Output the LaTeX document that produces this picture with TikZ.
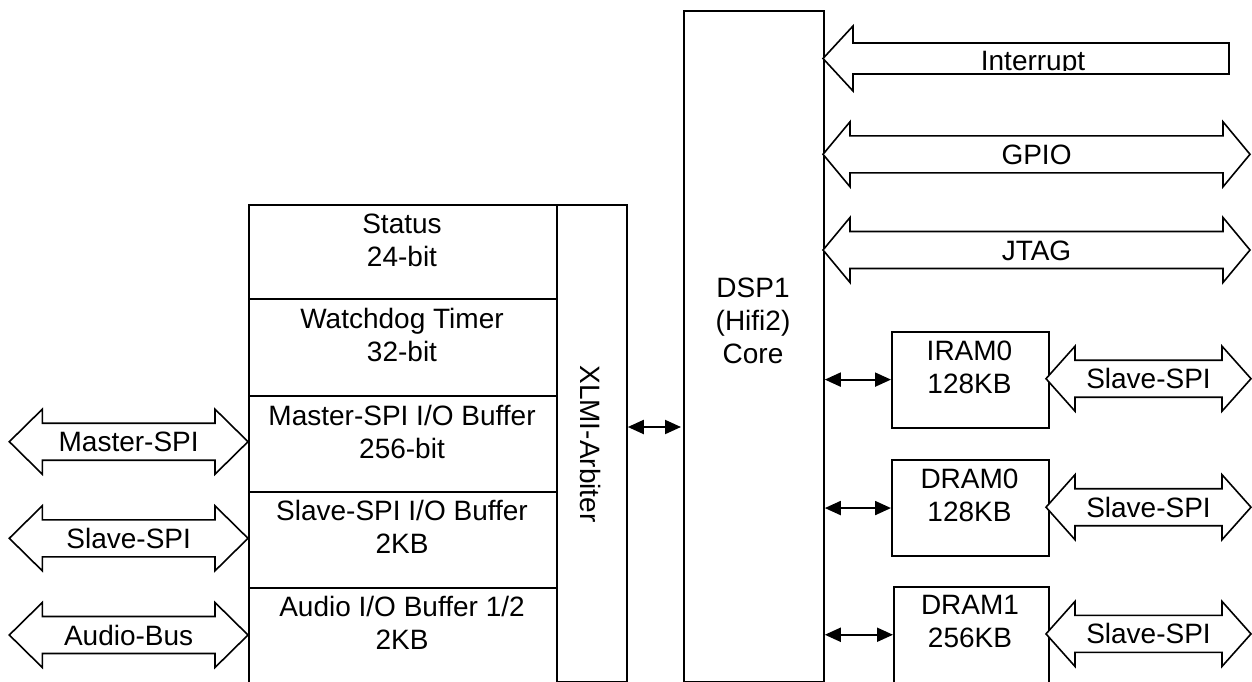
\documentclass[tikz,border=0pt]{standalone}
\usepackage{fontspec}
\setmainfont{Liberation Sans}
\usetikzlibrary{arrows.meta}
% #1 name, #2 left tip x, #3 right tip x, #4 centre y, #5 head length, #6 label
\newcommand{\DblArrow}[6]{%
  \draw[bus] (#2,#4) -- (#2+#5,#4-32.5) -- (#2+#5,#4-18.5) -- (#3-#5,#4-18.5)
    -- (#3-#5,#4-32.5) -- (#3,#4) -- (#3-#5,#4+32.5) -- (#3-#5,#4+18.5)
    -- (#2+#5,#4+18.5) -- (#2+#5,#4+32.5) -- cycle;
  \node[lbl] (#1) at ({(#2+#3)/2},#4+3.4) {\strut #6};}
\begin{document}
\begin{tikzpicture}[x=1pt,y=-1pt,
  box/.style={draw, line width=1.8pt, fill=white, inner sep=0, anchor=north west},
  bus/.style={draw, line width=1.6pt, fill=white, line join=miter},
  lbl/.style={font=\fontsize{28}{33}\selectfont, align=center, inner sep=0},
  conn/.style={line width=2pt, <->, >={Triangle[length=16pt,width=14pt]}}]
\useasboundingbox (0,0) rectangle (1252,682);
\fill[white] (0,0) rectangle (1252,682);

% left register block
\node[box, minimum width=308, minimum height=94.3] (status) at (248,204) {};
\node[box, minimum width=308, minimum height=96.4] (wdt) at (248,298.3) {};
\node[box, minimum width=308, minimum height=96.3] (mbuf) at (248,394.7) {};
\node[box, minimum width=308, minimum height=96.3] (sbuf) at (248,491) {};
\node[box, minimum width=308, minimum height=94.2] (abuf) at (248,587.3) {};
\node[lbl] (tstatus) at (402,243) {\strut Status\\\strut 24-bit};
\node[lbl] (twdt) at (402,338.4) {\strut Watchdog Timer\\\strut 32-bit};
\node[lbl] (tmbuf) at (402,435) {\strut Master-SPI I/O Buffer\\\strut 256-bit};
\node[lbl] (tsbuf) at (402,530) {\strut Slave-SPI I/O Buffer\\\strut 2KB};
\node[lbl] (tabuf) at (402,626) {\strut Audio I/O Buffer 1/2\\\strut 2KB};

% arbiter
\node[box, minimum width=70, minimum height=477] (arb) at (556,204) {};
\node[lbl, rotate=-90] (tarb) at (590,444) {XLMI-Arbiter};

% DSP core
\node[box, minimum width=140, minimum height=671] (dsp) at (683,10) {};
\node[lbl] (tdsp) at (753,324) {\strut DSP1\\\strut (Hifi2)\\\strut Core};

% memories
\node[box, minimum width=157, minimum height=96] (iram) at (891,330.7) {};
\node[box, minimum width=157, minimum height=95.7] (dram0) at (891,459.3) {};
\node[box, minimum width=155, minimum height=95.7] (dram1) at (893,586) {};
\node[lbl] (tiram) at (969.5,370.4) {\strut IRAM0\\\strut 128KB};
\node[lbl] (tdram0) at (969.5,498.4) {\strut DRAM0\\\strut 128KB};
\node[lbl] (tdram1) at (970,624.7) {\strut DRAM1\\\strut 256KB};

% connectors
\coordinate (xa) at (0,427);
\draw[conn, shorten >=2pt] (arb.east |- xa) -- (dsp.west |- xa);
\draw[conn] (dsp.east |- iram.west) -- (iram.west);
\draw[conn] (dsp.east |- dram0.west) -- (dram0.west);
\draw[conn] (dsp.east |- dram1.west) -- (dram1.west);

% left buses
\DblArrow{lmspi}{9.3}{248}{441.7}{33}{Master-SPI}
\DblArrow{lsspi}{9.3}{248}{538.3}{33}{Slave-SPI}
\DblArrow{laudio}{9.3}{248}{635}{33}{Audio-Bus}

% right buses
\DblArrow{gpio}{823}{1250}{154.3}{27}{GPIO}
\DblArrow{jtag}{823}{1250}{250}{27}{JTAG}
\DblArrow{rs1}{1046}{1251}{378.7}{29}{Slave-SPI}
\DblArrow{rs2}{1046}{1251}{507.2}{29}{Slave-SPI}
\DblArrow{rs3}{1046}{1251}{633.9}{29}{Slave-SPI}

% interrupt
\draw[bus] (823,58.5) -- (853,26) -- (853,43) -- (1229,43) -- (1229,74)
  -- (853,74) -- (853,91) -- cycle;
\begin{scope}
\clip (855,40) rectangle (1227,71);
\node[lbl] (tint) at (1033,64.1) {\strut Interrupt};
\end{scope}
\end{tikzpicture}
\end{document}
